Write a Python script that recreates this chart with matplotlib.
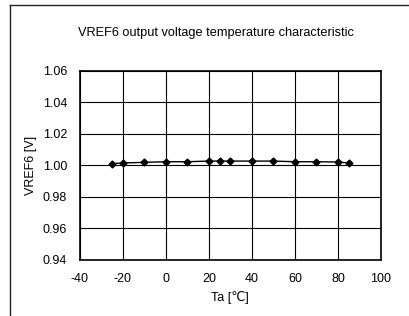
import matplotlib
matplotlib.use("Agg")
import matplotlib.pyplot as plt
from matplotlib.lines import Line2D

plt.rcParams['font.family'] = ['Liberation Sans', 'DejaVu Sans']
plt.rcParams['axes.unicode_minus'] = False

# temperature [deg C] and measured VREF6 [V]
ta = [-25, -20, -10, 0, 10, 20, 25, 30, 40, 50, 60, 70, 80, 85]
vref6 = [1.0011, 1.0015, 1.0019, 1.0023, 1.0023, 1.0027, 1.0027, 1.0027,
         1.0027, 1.0027, 1.0023, 1.0023, 1.0021, 1.0015]
x_ticks = [-40, -20, 0, 20, 40, 60, 80, 100]
y_ticks = [0.94, 0.96, 0.98, 1.00, 1.02, 1.04, 1.06]

fig = plt.figure(figsize=(4.09, 3.16), dpi=100)
ax = fig.add_axes([79.7 / 409, 1 - 260 / 316, 301.3 / 409, 189.3 / 316])

ax.plot(ta, vref6, color='black', linewidth=1.0, marker='D', markersize=3.5,
        zorder=3)

ax.set_xlim(-40, 100)
ax.set_ylim(0.94, 1.06)
ax.set_xticks(x_ticks)
ax.set_yticks(y_ticks)
ax.set_yticklabels(["%.2f" % v for v in y_ticks])
ax.grid(True, color='black', linewidth=0.8)
ax.tick_params(length=0, labelsize=9, pad=9)
for s in ax.spines.values():
    s.set_linewidth(1.2)
    s.set_zorder(4)

ax.set_xlabel("Ta [℃]", fontsize=9, labelpad=5)
ax.set_ylabel("VREF6 [V]", fontsize=9, labelpad=4)
fig.text(216 / 409, 1 - 33 / 316, "VREF6 output voltage temperature characteristic",
         ha='center', va='center', fontsize=9.2)

# outer frame (only top and left edges visible)
fig.add_artist(Line2D([10 / 409, 10 / 409], [0, 1 - 5 / 316], color='#222222',
                      linewidth=1.0, transform=fig.transFigure))
fig.add_artist(Line2D([10 / 409, 1], [1 - 5 / 316, 1 - 5 / 316], color='#222222',
                      linewidth=1.0, transform=fig.transFigure))

fig.savefig("out.png", dpi=100)
